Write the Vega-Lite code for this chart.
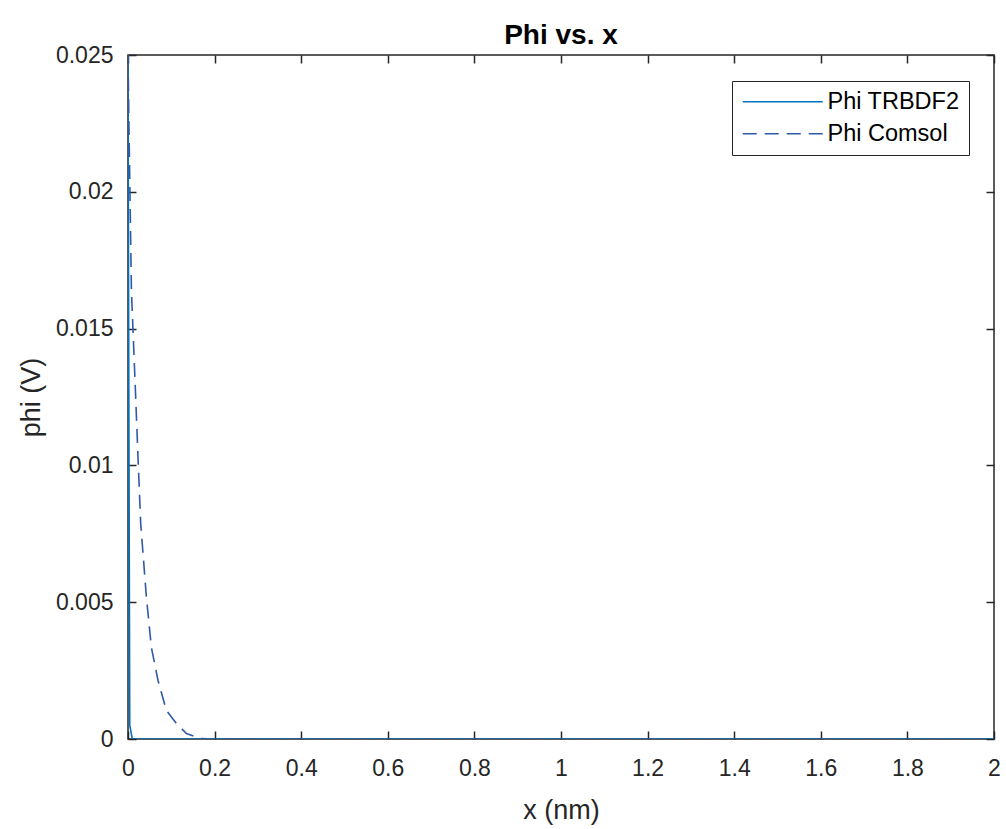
{
  "$schema": "https://vega.github.io/schema/vega-lite/v6.json",
  "width": 866,
  "height": 684,
  "autosize": "none",
  "padding": {"left": 128, "top": 55, "right": 12, "bottom": 90},
  "background": "#ffffff",
  "config": {
    "font": "Liberation Sans",
    "view": {"stroke": "#262626", "strokeWidth": 1.5},
    "axis": {"grid": false, "domain": false, "tickColor": "#262626", "labelColor": "#262626", "titleColor": "#262626", "labelFont": "Liberation Sans", "titleFont": "Liberation Sans", "labelFontSize": 23, "titleFontSize": 27, "titleFontWeight": "normal", "tickSize": -8, "tickWidth": 1.5}
  },
  "title": {"text": "Phi vs. x", "fontSize": 28, "fontWeight": "bold", "font": "Liberation Sans", "color": "#000000", "offset": 4, "dy": 10},
  "data": {"values": [
    {"x": 0, "phi": 0.025, "series": "Phi TRBDF2"},
    {"x": 0.002, "phi": 0.012, "series": "Phi TRBDF2"},
    {"x": 0.004, "phi": 0.0005, "series": "Phi TRBDF2"},
    {"x": 0.01, "phi": 0, "series": "Phi TRBDF2"},
    {"x": 0.5, "phi": 0, "series": "Phi TRBDF2"},
    {"x": 1, "phi": 0, "series": "Phi TRBDF2"},
    {"x": 2, "phi": 0, "series": "Phi TRBDF2"},
    {"x": 0, "phi": 0.025, "series": "Phi Comsol"},
    {"x": 0.0023, "phi": 0.0223, "series": "Phi Comsol"},
    {"x": 0.0079, "phi": 0.0164, "series": "Phi Comsol"},
    {"x": 0.0171, "phi": 0.01275, "series": "Phi Comsol"},
    {"x": 0.0231, "phi": 0.0103, "series": "Phi Comsol"},
    {"x": 0.0293, "phi": 0.00788, "series": "Phi Comsol"},
    {"x": 0.0425, "phi": 0.00518, "series": "Phi Comsol"},
    {"x": 0.054, "phi": 0.00335, "series": "Phi Comsol"},
    {"x": 0.0693, "phi": 0.00214, "series": "Phi Comsol"},
    {"x": 0.0887, "phi": 0.00104, "series": "Phi Comsol"},
    {"x": 0.1118, "phi": 0.00057, "series": "Phi Comsol"},
    {"x": 0.1349, "phi": 0.0002, "series": "Phi Comsol"},
    {"x": 0.166, "phi": 0.00002, "series": "Phi Comsol"},
    {"x": 0.2, "phi": 0, "series": "Phi Comsol"},
    {"x": 0.5, "phi": 0, "series": "Phi Comsol"},
    {"x": 1, "phi": 0, "series": "Phi Comsol"},
    {"x": 2, "phi": 0, "series": "Phi Comsol"}
  ]},
  "resolve": {"axis": {"x": "independent", "y": "independent"}},
  "layer": [
    {
      "transform": [{"filter": "datum.series === 'Phi TRBDF2'"}],
      "mark": {"type": "line", "strokeWidth": 1.6, "clip": true},
      "encoding": {
        "x": {"field": "x", "type": "quantitative", "scale": {"domain": [0, 2], "nice": false, "zero": false},
          "axis": {"orient": "bottom", "title": "x (nm)", "values": [0, 0.2, 0.4, 0.6, 0.8, 1, 1.2, 1.4, 1.6, 1.8, 2], "labelPadding": 26, "titlePadding": 17, "labelExpr": "datum.value == 0 ? '0' : format(datum.value, '.1~f')", "labelFlush": false}},
        "y": {"field": "phi", "type": "quantitative", "scale": {"domain": [0, 0.025], "nice": false},
          "axis": {"orient": "left", "title": "phi (V)", "values": [0, 0.005, 0.01, 0.015, 0.02, 0.025], "labelPadding": 23, "titlePadding": 10, "labelExpr": "datum.value == 0 ? '0' : format(datum.value, '.3~f')", "labelFlush": false}},
        "order": {"field": "x", "type": "quantitative"},
        "color": {"field": "series", "type": "nominal", "scale": {"domain": ["Phi TRBDF2", "Phi Comsol"], "range": ["#0072BD", "#2f5aa8"]},
          "legend": {"title": null, "orient": "none", "legendX": 604, "legendY": 26, "symbolType": "M-1,0H7", "symbolSize": 400, "symbolStrokeWidth": 1.6, "labelFontSize": 23.5, "labelFont": "Liberation Sans", "labelColor": "#000000", "strokeColor": "#262626", "fillColor": "#ffffff", "padding": 9, "rowPadding": 7, "labelOffset": 63}},
        "strokeDash": {"field": "series", "type": "nominal", "scale": {"domain": ["Phi TRBDF2", "Phi Comsol"], "range": [[1, 0], [14, 8]]}}
      }
    },
    {
      "transform": [{"filter": "datum.series === 'Phi Comsol'"}],
      "mark": {"type": "line", "strokeWidth": 1.6, "clip": true},
      "encoding": {
        "x": {"field": "x", "type": "quantitative", "scale": {"domain": [0, 2], "nice": false, "zero": false},
          "axis": {"orient": "top", "title": null, "labels": false, "values": [0, 0.2, 0.4, 0.6, 0.8, 1, 1.2, 1.4, 1.6, 1.8, 2]}},
        "y": {"field": "phi", "type": "quantitative", "scale": {"domain": [0, 0.025], "nice": false},
          "axis": {"orient": "right", "title": null, "labels": false, "values": [0, 0.005, 0.01, 0.015, 0.02, 0.025]}},
        "order": {"field": "x", "type": "quantitative"},
        "color": {"field": "series", "type": "nominal"},
        "strokeDash": {"field": "series", "type": "nominal"}
      }
    }
  ]
}
